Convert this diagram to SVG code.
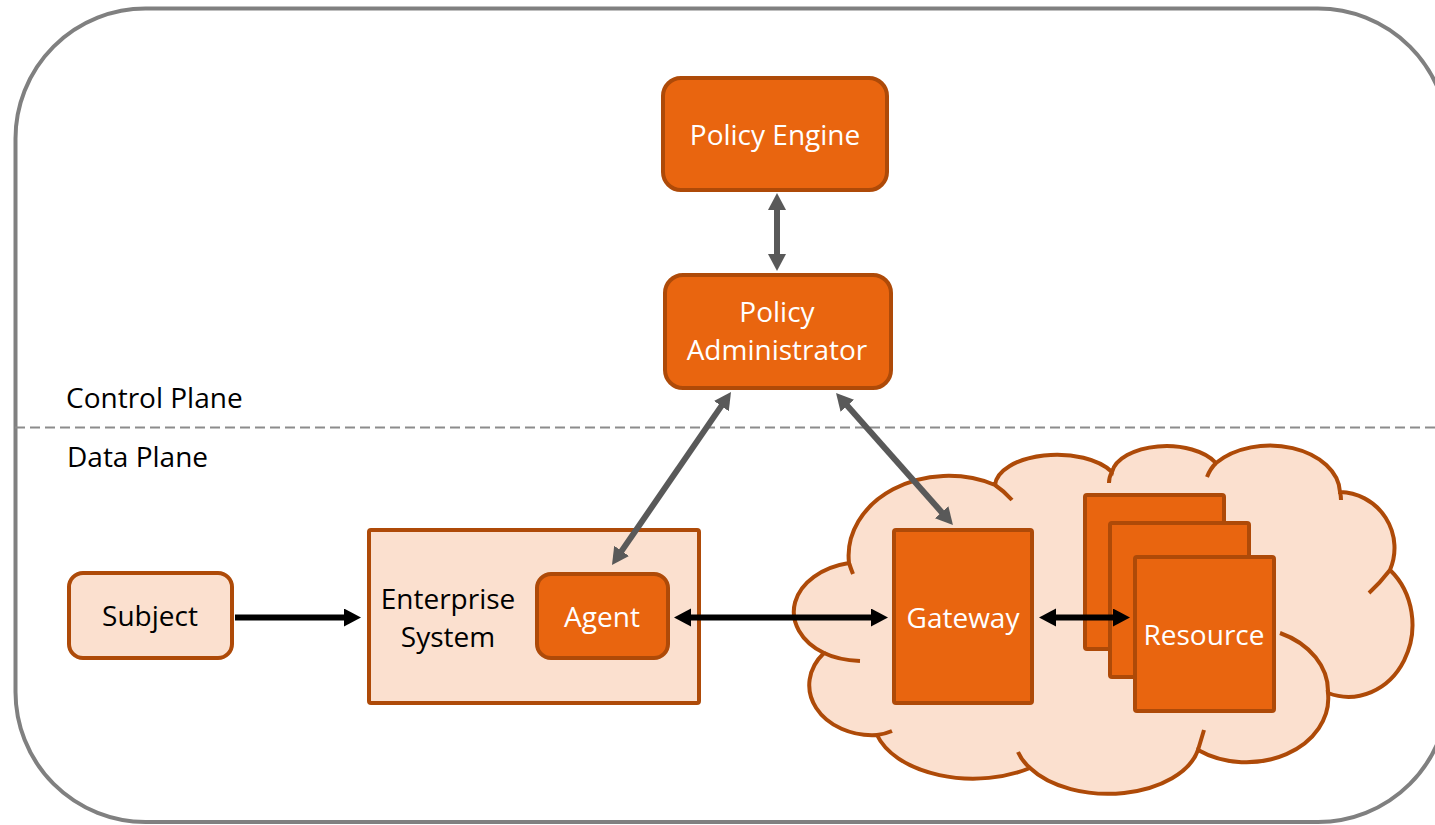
<svg xmlns="http://www.w3.org/2000/svg" width="1435" height="825" viewBox="0 0 1435 825">
<style>
.dark{fill:#E9650F;stroke:#AE4A08;stroke-width:4}
.light{fill:#FBE0CF;stroke:#AE4A08;stroke-width:4}
.stub{fill:none;stroke:#AE4A08;stroke-width:4}
.t{font-family:"Open Sans","Liberation Sans",sans-serif;font-size:28px;text-anchor:middle}
.w{fill:#FFFFFF}
.b{fill:#000000}
.lbl{font-family:"Open Sans","Liberation Sans",sans-serif;font-size:28px;fill:#000000}
.ag{stroke:#595959;stroke-width:6;fill:none}
.ab{stroke:#000000;stroke-width:6;fill:none}
</style>
<defs>
<marker id="mg" markerUnits="userSpaceOnUse" markerWidth="20" markerHeight="20" refX="2" refY="9" orient="auto-start-reverse"><path d="M0,0 L17,9 L0,18 Z" fill="#595959"/></marker>
<marker id="mb" markerUnits="userSpaceOnUse" markerWidth="20" markerHeight="20" refX="2" refY="9" orient="auto-start-reverse"><path d="M0,0 L17,9 L0,18 Z" fill="#000000"/></marker>
</defs>
<rect id="frame" x="15.5" y="8.5" width="1432.5" height="813.5" rx="130" ry="130" fill="#FFFFFF" stroke="#808080" stroke-width="4"/>
<line id="divider" x1="15" y1="427.5" x2="1435" y2="427.5" stroke="#8C8C8C" stroke-width="2" stroke-dasharray="10,5"/>
<text class="lbl" x="66" y="408">Control Plane</text>
<text class="lbl" x="67" y="467">Data Plane</text>
<g id="cloud">
<path class="light" d="M849,563 A100 80 0 0 1 995,485 A62 32 0 0 1 1112,472 A55 30 0 0 1 1216,463 A70 48 0 0 1 1340,492 A56 56 0 0 1 1390,570 A64 72 0 0 1 1328,693 A82 64 0 0 1 1198,750 A92 55 0 0 1 1030,768 A100 60 0 0 1 877,735 A63 50 0 0 1 824,653 A70 50 0 0 1 849,563 Z"/>
<path class="stub" d="M849,563 Q851,569 853,574 M824,653 Q838,660 860,661 M877,735 Q885,734 892,731 M1030,768 Q1022,761 1018,752 M1198,750 Q1201,740 1204,730 M1328,693 A82 64 0 0 0 1280,633 M1390,570 Q1380,583 1369,593 M1340,492 Q1341,496 1341,500 M1216,463 Q1210,469 1207,477 M1112,472 Q1109,477 1109,483 M995,485 Q1004,491 1012,500"/>
</g>
<g id="policy-engine">
<rect class="dark" x="663" y="78" width="224" height="112" rx="18"/>
<text class="t w" x="775" y="145">Policy Engine</text>
</g>
<g id="policy-administrator">
<rect class="dark" x="665" y="275" width="226" height="113" rx="18"/>
<text class="t w" x="777" y="322">Policy</text>
<text class="t w" x="777" y="360">Administrator</text>
</g>
<g id="subject">
<rect class="light" x="69" y="573" width="163" height="85" rx="14"/>
<text class="t b" x="150" y="626">Subject</text>
</g>
<g id="enterprise-system">
<rect class="light" x="369" y="530" width="330" height="173" rx="2"/>
<text class="t b" x="448" y="609">Enterprise</text>
<text class="t b" x="448" y="647">System</text>
</g>
<g id="agent">
<rect class="dark" x="537" y="574" width="131" height="84" rx="14"/>
<text class="t w" x="602" y="627">Agent</text>
</g>
<g id="gateway">
<rect class="dark" x="894" y="530" width="138" height="173" rx="2"/>
<text class="t w" x="963" y="628">Gateway</text>
</g>
<g id="resource">
<rect class="dark" x="1085" y="495" width="139" height="154" rx="2"/>
<rect class="dark" x="1110" y="523" width="139" height="154" rx="2"/>
<rect class="dark" x="1135" y="557" width="139" height="154" rx="2"/>
<text class="t w" x="1204" y="645">Resource</text>
</g>
<g id="connectors">
<line class="ag" x1="777" y1="208" x2="777" y2="256" marker-start="url(#mg)" marker-end="url(#mg)"/>
<line class="ag" x1="722.5" y1="404.4" x2="620.5" y2="552.6" marker-start="url(#mg)" marker-end="url(#mg)"/>
<line class="ag" x1="846" y1="404.3" x2="943" y2="513.7" marker-start="url(#mg)" marker-end="url(#mg)"/>
<line class="ab" x1="235" y1="617.5" x2="346" y2="617.5" marker-end="url(#mb)"/>
<line class="ab" x1="689" y1="617.5" x2="873" y2="617.5" marker-start="url(#mb)" marker-end="url(#mb)"/>
<line class="ab" x1="1054" y1="617.5" x2="1115" y2="617.5" marker-start="url(#mb)" marker-end="url(#mb)"/>
</g>
</svg>
